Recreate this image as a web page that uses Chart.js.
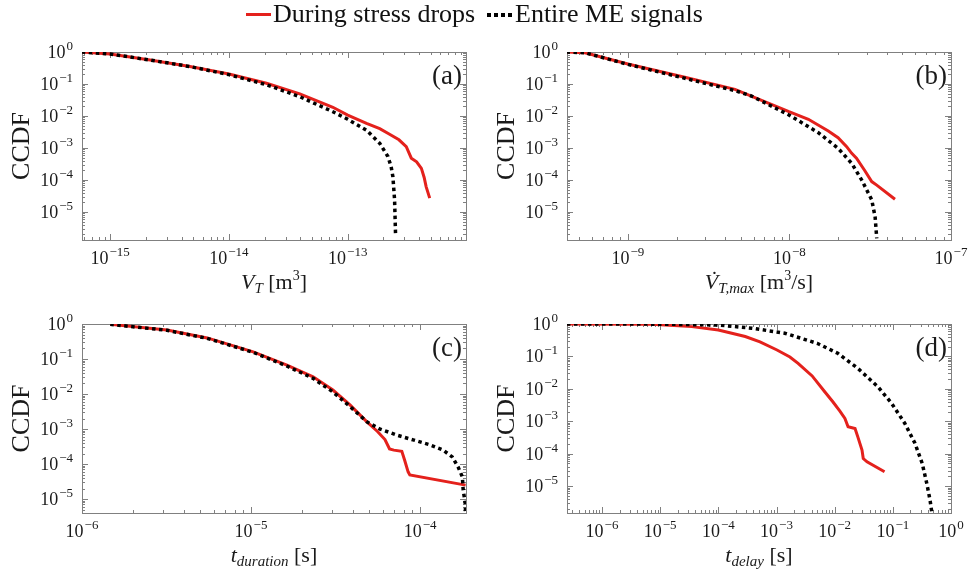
<!DOCTYPE html>
<html>
<head>
<meta charset="utf-8">
<script src="https://cdn.jsdelivr.net/npm/chart.js@4.4.0/dist/chart.umd.min.js"></script>
<style>
  body { margin: 0; background: #fff; width: 970px; height: 570px; position: relative; overflow: hidden; }
  canvas { position: absolute; }
  #legend { position: absolute; top: 0; left: 0; width: 970px; height: 30px; z-index: 2;
            font-family: "Liberation Serif", "DejaVu Serif", serif; font-size: 26px; color: #111; line-height: 28px; }
  #legend span { position: absolute; top: 0; white-space: nowrap; }
  #legend .swatch { top: 13px; height: 3px; width: 25px; }
  #legend .red { background: #e4211c; }
  #legend .dots { height: 4px; top: 13px; background: repeating-linear-gradient(90deg, #000 0 3.5px, transparent 3.5px 7px); }
</style>
</head>
<body>
<div id="legend">
  <span class="swatch red" style="left:246px"></span><span style="left:273px">During stress drops</span>
  <span class="swatch dots" style="left:487px"></span><span style="left:515px">Entire ME signals</span>
</div>
<canvas id="pc" width="485" height="280" style="left:0;top:290px"></canvas>
<canvas id="pd" width="485" height="280" style="left:485px;top:290px"></canvas>
<canvas id="pa" width="485" height="300" style="left:0;top:0"></canvas>
<canvas id="pb" width="485" height="300" style="left:485px;top:0"></canvas>
<script>
// (a) V_T
const aRedX = [5.78e-16, 1e-15, 2.17e-15, 4.7e-15, 1e-14, 2.07e-14, 3.95e-14, 7.5e-14, 1e-13, 1.44e-13, 1.86e-13, 2.25e-13, 2.7e-13, 3.11e-13, 3.43e-13, 3.8e-13, 4.17e-13, 4.4e-13, 4.57e-13, 4.9e-13];
const aRedY = [1.0, 0.866, 0.56, 0.35, 0.205, 0.105, 0.049, 0.0187, 0.0107, 5.9e-3, 4e-3, 2.7e-3, 1.8e-3, 1.1e-3, 4.8e-4, 3.7e-4, 2.3e-4, 1.2e-4, 6.2e-5, 2.7e-5];
const aBlkX = [5.78e-16, 1e-15, 2.17e-15, 4.7e-15, 1e-14, 2.07e-14, 3.95e-14, 7.5e-14, 1e-13, 1.44e-13, 1.86e-13, 2.18e-13, 2.32e-13, 2.4e-13, 2.48e-13, 2.53e-13];
const aBlkY = [1.0, 0.866, 0.56, 0.35, 0.196, 0.095, 0.04, 0.0136, 7.9e-3, 3.6e-3, 1.4e-3, 5.4e-4, 2.6e-4, 1.26e-4, 2.4e-5, 1.7e-6];

// (b) dV_T,max
const bRedX = [4.17e-10, 5.42e-10, 1e-9, 2.25e-9, 4.6e-9, 9.93e-9, 1.31e-8, 1.74e-8, 2.0e-8, 2.26e-8, 2.43e-8, 2.6e-8, 2.93e-8, 3.23e-8, 3.47e-8, 4.5e-8];
const bRedY = [1.0, 0.95, 0.42, 0.162, 0.068, 0.0136, 7.9e-3, 3.4e-3, 2.1e-3, 1.1e-3, 6.8e-4, 4.8e-4, 1.95e-4, 8.9e-5, 6.9e-5, 2.5e-5];
const bBlkX = [4.17e-10, 5.42e-10, 1e-9, 2.25e-9, 4.6e-9, 5.83e-9, 9.93e-9, 1.51e-8, 2.0e-8, 2.43e-8, 2.8e-8, 3.23e-8, 3.39e-8, 3.47e-8];
const bBlkY = [1.0, 0.95, 0.41, 0.151, 0.062, 0.042, 0.0108, 3.0e-3, 9.8e-4, 3.3e-4, 1.0e-4, 2.4e-5, 7.1e-6, 1.5e-6];

// (c) t_duration
const cRedX = [1.47e-6, 3.18e-6, 5.5e-6, 1.03e-5, 1.63e-5, 2.33e-5, 3.05e-5, 3.85e-5, 4.85e-5, 5.6e-5, 6.2e-5, 6.6e-5, 7.0e-5, 7.8e-5, 8.1e-5, 8.5e-5, 8.7e-5, 1.86e-4];
const cRedY = [0.98, 0.67, 0.4, 0.16, 0.067, 0.031, 0.013, 4.9e-3, 1.6e-3, 8.5e-4, 5.0e-4, 2.7e-4, 2.5e-4, 2.3e-4, 1.3e-4, 6e-5, 4.9e-5, 2.5e-5];
const cBlkX = [1.47e-6, 3.18e-6, 5.5e-6, 1.03e-5, 1.63e-5, 2.33e-5, 3.05e-5, 3.85e-5, 4.85e-5, 5.8e-5, 7.3e-5, 9.1e-5, 1.15e-4, 1.37e-4, 1.55e-4, 1.68e-4, 1.78e-4, 1.8e-4, 1.85e-4, 1.86e-4];
const cBlkY = [0.98, 0.66, 0.39, 0.155, 0.063, 0.028, 0.0115, 4.4e-3, 1.6e-3, 1.0e-3, 6.7e-4, 4.9e-4, 3.5e-4, 2.5e-4, 1.6e-4, 8.2e-5, 4.3e-5, 1.8e-5, 7.7e-6, 4e-6];

// (d) t_delay
const dRedX = [2.5e-7, 7.2e-6, 3.5e-5, 1e-4, 2.9e-4, 5.2e-4, 1.02e-3, 1.7e-3, 2.35e-3, 4.1e-3, 6.8e-3, 9.3e-3, 1.23e-2, 1.5e-2, 1.7e-2, 2.24e-2, 2.5e-2, 2.95e-2, 3.1e-2, 3.6e-2, 7.2e-2];
const dRedY = [1.0, 0.98, 0.83, 0.65, 0.41, 0.28, 0.158, 0.096, 0.061, 0.025, 8e-3, 4.0e-3, 2.05e-3, 1.23e-3, 6.8e-4, 6.0e-4, 3.3e-4, 1.29e-4, 7.1e-5, 5.6e-5, 2.76e-5];
const dBlkX = [2.5e-7, 1e-5, 1e-4, 3.8e-4, 1.39e-3, 5.1e-3, 1.13e-2, 2.5e-2, 5.5e-2, 0.095, 0.16, 0.24, 0.32, 0.384, 0.436, 0.47];
const dBlkY = [1.0, 0.99, 0.93, 0.74, 0.52, 0.25, 0.125, 0.043, 0.0117, 3.6e-3, 8.7e-4, 2.1e-4, 5.0e-5, 1.2e-5, 3.7e-6, 1.48e-6];

const RED = '#e4211c';
const FONT = '"Liberation Serif", "DejaVu Serif", serif';

function zip(xs, ys) {
  return xs.map((x, i) => ({ x: x, y: ys[i] }));
}

function fontOf(s) {
  return (s.it ? 'italic ' : '') + s.sz + 'px ' + FONT;
}

// draws mixed text (italic / sub / superscripts)
function drawRich(ctx, segs, x, y, align) {
  let w = 0;
  segs.forEach(s => {
    ctx.font = fontOf(s);
    s.w = s.over ? 0 : ctx.measureText(s.t).width + (s.gap || 0);
    w += s.w;
  });
  let cx = align === 'right' ? x - w : (align === 'center' ? x - w / 2 : x);
  let prev = cx;
  ctx.textAlign = 'left';
  ctx.textBaseline = 'alphabetic';
  segs.forEach(s => {
    ctx.font = fontOf(s);
    if (s.over) {
      ctx.fillText(s.t, prev + (s.dx || 0), y + (s.dy || 0));
    } else {
      ctx.fillText(s.t, cx, y + (s.dy || 0));
      prev = cx;
      cx += s.w;
    }
  });
}

function powLabel(e) {
  return [{ t: '10', sz: 18, gap: 1 }, { t: e < 0 ? '\u2212' + (-e) : String(e), sz: 13, dy: -8 }];
}

function logTicks(min, max) {
  const out = [];
  for (let d = Math.floor(Math.log10(min)); d <= Math.ceil(Math.log10(max)); d++) {
    for (let k = 1; k <= 9; k++) {
      const v = k * Math.pow(10, d);
      if (v >= min * 0.999 && v <= max * 1.001) out.push({ v: v, major: k === 1, e: d });
    }
  }
  return out;
}

const axesPlugin = {
  id: 'axesPlugin',
  beforeDatasetsDraw(chart) {
    const ctx = chart.ctx, a = chart.chartArea;
    ctx.save();
    ctx.strokeStyle = '#808080';
    ctx.lineWidth = 1;
    ctx.strokeRect(Math.round(a.left) + 0.5, Math.round(a.top) + 0.5, Math.round(a.right - a.left), Math.round(a.bottom - a.top));
    const xs = chart.scales.x, ys = chart.scales.y;
    ctx.beginPath();
    logTicks(xs.min, xs.max).forEach(t => {
      const px = Math.round(xs.getPixelForValue(t.v)) + 0.5, len = t.major ? 6 : 3;
      ctx.moveTo(px, a.bottom); ctx.lineTo(px, a.bottom - len);
      ctx.moveTo(px, a.top); ctx.lineTo(px, a.top + len);
    });
    logTicks(ys.min, ys.max).forEach(t => {
      const py = Math.round(ys.getPixelForValue(t.v)) + 0.5, len = t.major ? 6 : 3;
      ctx.moveTo(a.left, py); ctx.lineTo(a.left + len, py);
      ctx.moveTo(a.right, py); ctx.lineTo(a.right - len, py);
    });
    ctx.stroke();
    ctx.restore();
  },
  afterDraw(chart) {
    const ctx = chart.ctx, a = chart.chartArea, o = chart.options.plugins.axesPlugin;
    const xs = chart.scales.x, ys = chart.scales.y;
    ctx.save();
    ctx.fillStyle = '#1a1a1a';
    logTicks(xs.min, xs.max).filter(t => t.major).forEach(t => {
      drawRich(ctx, powLabel(t.e), xs.getPixelForValue(t.v), a.bottom + 24, 'center');
    });
    logTicks(ys.min, ys.max).filter(t => t.major).forEach(t => {
      drawRich(ctx, powLabel(t.e), a.left - 9, ys.getPixelForValue(t.v) + 6, 'right');
    });
    drawRich(ctx, o.title, (a.left + a.right) / 2, a.bottom + 49, 'center');
    drawRich(ctx, [{ t: o.tag, sz: 27 }], a.right - 4, a.top + 32, 'right');
    ctx.translate(22, (a.top + a.bottom) / 2);
    ctx.rotate(-Math.PI / 2);
    ctx.font = '26px ' + FONT;
    ctx.textAlign = 'center';
    ctx.textBaseline = 'middle';
    ctx.fillText('CCDF', 0, 0);
    ctx.restore();
  }
};

function makePanel(id, redX, redY, blkX, blkY, xmin, xmax, ymin, pad, title, tag) {
  new Chart(document.getElementById(id), {
    type: 'line',
    data: {
      datasets: [
        { label: 'During stress drops', data: zip(redX, redY), borderColor: RED, borderWidth: 3,
          pointRadius: 0, tension: 0, order: 2 },
        { label: 'Entire ME signals', data: zip(blkX, blkY), borderColor: '#000', borderWidth: 3.5,
          borderDash: [3.5, 3.5], pointRadius: 0, tension: 0, order: 1 }
      ]
    },
    options: {
      responsive: false,
      animation: false,
      events: [],
      layout: { padding: pad },
      plugins: {
        legend: { display: false },
        tooltip: { enabled: false },
        axesPlugin: { title: title, tag: tag }
      },
      scales: {
        x: { type: 'logarithmic', min: xmin, max: xmax, display: false },
        y: { type: 'logarithmic', min: ymin, max: 1, display: false }
      }
    },
    plugins: [axesPlugin]
  });
}

const padTop = { left: 82, top: 52, right: 19, bottom: 60 };
const padBot = { left: 82, top: 34, right: 19, bottom: 57 };

makePanel('pa', aRedX, aRedY, aBlkX, aBlkY, 5.8e-16, 9.9e-13, 1.33e-6, padTop,
  [{ t: 'V', it: 1, sz: 22 }, { t: 'T', it: 1, sz: 15, dy: 4 }, { t: ' [m', sz: 22 }, { t: '3', sz: 14, dy: -9 }, { t: ']', sz: 22 }], '(a)');
makePanel('pb', bRedX, bRedY, bBlkX, bBlkY, 4.2e-10, 1e-7, 1.33e-6, padTop,
  [{ t: 'V', it: 1, sz: 22 }, { t: '\u02D9', sz: 22, over: 1, dx: 6, dy: -3 }, { t: 'T,max', it: 1, sz: 15, dy: 4 },
   { t: ' [m', sz: 22 }, { t: '3', sz: 14, dy: -9 }, { t: '/s]', sz: 22 }], '(b)');
makePanel('pc', cRedX, cRedY, cBlkX, cBlkY, 1e-6, 1.87e-4, 4e-6, padBot,
  [{ t: 't', it: 1, sz: 22 }, { t: 'duration', it: 1, sz: 15, dy: 4 }, { t: ' [s]', sz: 22 }], '(c)');
makePanel('pd', dRedX, dRedY, dBlkX, dBlkY, 2.5e-7, 1, 1.48e-6, padBot,
  [{ t: 't', it: 1, sz: 22 }, { t: 'delay', it: 1, sz: 15, dy: 4 }, { t: ' [s]', sz: 22 }], '(d)');
</script>
</body>
</html>
